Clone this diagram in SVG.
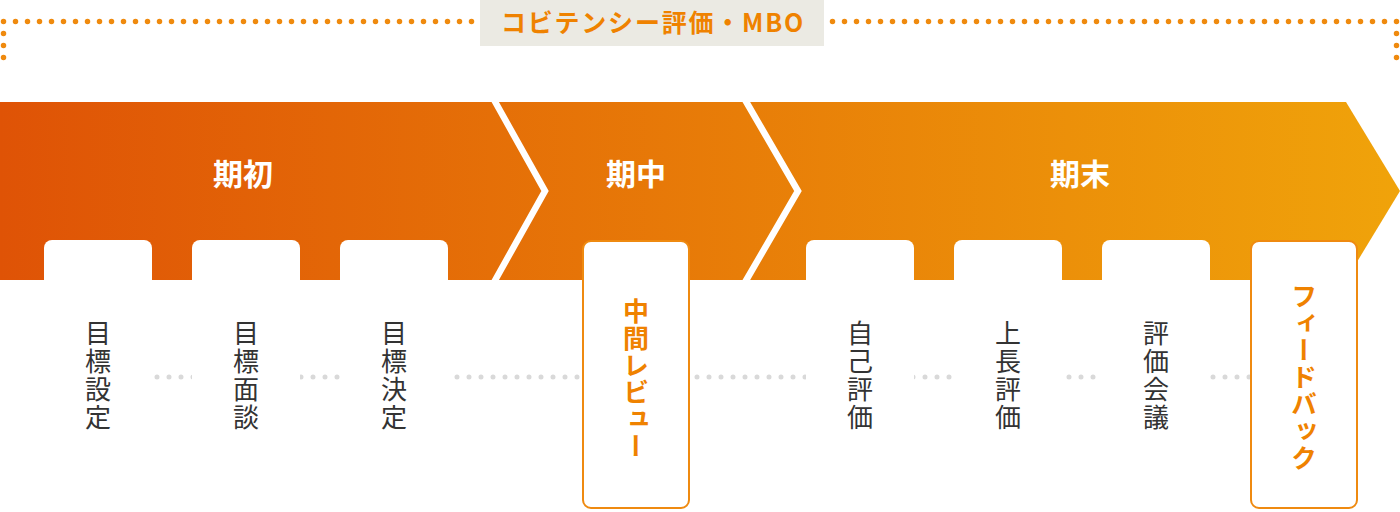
<svg xmlns="http://www.w3.org/2000/svg" width="1400" height="512" viewBox="0 0 1400 512">
<defs>
<linearGradient id="band" x1="0" y1="0" x2="1400" y2="0" gradientUnits="userSpaceOnUse">
<stop offset="0" stop-color="#df5306"/>
<stop offset="1" stop-color="#f0a30a"/>
</linearGradient>
<style>
.dots{fill:none;stroke:#ef8a0e;stroke-width:5.5;stroke-linecap:round;stroke-dasharray:0 12}
.gdots{fill:none;stroke:#d9d9d9;stroke-width:5;stroke-linecap:round;stroke-dasharray:0 12}
.chev{fill:none;stroke:#fff;stroke-width:6.5;stroke-linejoin:miter}
.phase{font-family:"Noto Sans CJK JP","Noto Sans",sans-serif;font-size:30px;font-weight:700;fill:#fff;text-anchor:middle}
.card{fill:#fff}
.hl{fill:#fff;stroke:#ef8a10;stroke-width:2}
.vt{font-family:"Noto Sans CJK JP","Noto Sans",sans-serif;font-size:26px;fill:#333;writing-mode:vertical-rl;text-anchor:middle;letter-spacing:2px}
.vo{font-family:"Noto Sans CJK JP","Noto Sans",sans-serif;font-size:26px;font-weight:700;fill:#ef8200;writing-mode:vertical-rl;text-anchor:middle;letter-spacing:1px}
.lbl{font-family:"Noto Sans CJK JP","Noto Sans",sans-serif;font-size:25px;font-weight:700;fill:#ef8200;text-anchor:middle;letter-spacing:1.8px}
</style>
</defs>
<g id="bracket">
<path class="dots" d="M3.5,57.5 V21.5 H474"/>
<path class="dots" d="M1396.5,57.5 V21.5 H830"/>
<rect x="480" y="0" width="344" height="46" fill="#ebeae3"/>
<text class="lbl" x="653" y="32">コビテンシー評価・MBO</text>
</g>
<g id="band-group">
<path d="M0,102 H1346 L1400,191 L1346,280 H0 Z" fill="url(#band)"/>
<polyline class="chev" points="493,98 545,191 493,284"/>
<polyline class="chev" points="744,98 798,191 744,284"/>
<text class="phase" x="243" y="185">期初</text>
<text class="phase" x="636" y="185">期中</text>
<text class="phase" x="1080" y="185">期末</text>
</g>
<g id="connectors">
<path class="gdots" d="M157,377 H1250"/>
</g>
<g id="node-1"><rect class="card" x="44" y="240" width="108" height="270" rx="8"/><text class="vt" x="98" y="376">目標設定</text></g>
<g id="node-2"><rect class="card" x="192" y="240" width="108" height="270" rx="8"/><text class="vt" x="246" y="376">目標面談</text></g>
<g id="node-3"><rect class="card" x="340" y="240" width="108" height="270" rx="8"/><text class="vt" x="394" y="376">目標決定</text></g>
<g id="node-4"><rect class="hl" x="583" y="241" width="106" height="267" rx="8"/><text class="vo" x="636" y="379">中間レビュー</text></g>
<g id="node-5"><rect class="card" x="806" y="240" width="108" height="270" rx="8"/><text class="vt" x="860" y="376">自己評価</text></g>
<g id="node-6"><rect class="card" x="954" y="240" width="108" height="270" rx="8"/><text class="vt" x="1008" y="376">上長評価</text></g>
<g id="node-7"><rect class="card" x="1102" y="240" width="108" height="270" rx="8"/><text class="vt" x="1156" y="376">評価会議</text></g>
<g id="node-8"><rect class="hl" x="1251" y="241" width="106" height="267" rx="8"/><text class="vo" x="1304" y="378">フィードバック</text></g>
</svg>
